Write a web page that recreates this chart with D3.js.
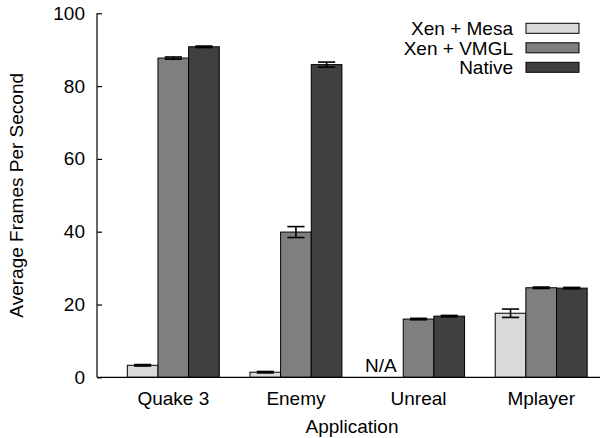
<!DOCTYPE html>
<html>
<head>
<meta charset="utf-8">
<script src="https://cdn.jsdelivr.net/npm/d3@7"></script>
<style>
  html, body { margin: 0; padding: 0; background: #fff; }
  text { font-family: "Liberation Sans", Arial, Helvetica, sans-serif; fill: #000; }
</style>
</head>
<body>
<svg id="chart" width="600" height="438"></svg>
<script>
const categories = ["Quake 3", "Enemy", "Unreal", "Mplayer"];
const seriesNames = ["Xen + Mesa", "Xen + VMGL", "Native"];
const mesaValues = [3.3, 1.4, 0, 17.6];
const mesaErrors = [0.2, 0.2, 0, 1.15];
const vmglValues = [87.7, 39.9, 16.0, 24.6];
const vmglErrors = [0.3, 1.5, 0.2, 0.2];
const nativeValues = [90.8, 85.9, 16.8, 24.5];
const nativeErrors = [0.2, 0.7, 0.2, 0.2];
const missingLabels = [["Unreal", "Xen + Mesa", "N/A"]];
const yTicks = [0, 20, 40, 60, 80, 100];
const colors = ["#d9d9d9", "#7f7f7f", "#404040"];

const seriesValues = [mesaValues, vmglValues, nativeValues];
const seriesErrors = [mesaErrors, vmglErrors, nativeErrors];

const svg = d3.select("#chart");
const mLeft = 97, mRight = 602.5, mTop = 13.3, mBottom = 377.3;

const y = d3.scaleLinear().domain([0, 100]).range([mBottom, mTop]);
const x0 = d3.scaleBand().domain(categories).range([mLeft + 15, mRight]);
const bw = x0.bandwidth();
const x1 = d3.scaleBand().domain(seriesNames).range([bw / 8, bw * 7 / 8]);
const color = d3.scaleOrdinal().domain(seriesNames).range(colors);

const data = [];
categories.forEach((c, i) => {
  seriesNames.forEach((s, j) => {
    data.push({cat: c, ser: s, v: seriesValues[j][i], e: seriesErrors[j][i]});
  });
});

// bars
svg.append("g").selectAll("rect").data(data).join("rect")
  .attr("x", d => x0(d.cat) + x1(d.ser))
  .attr("y", d => y(d.v))
  .attr("width", x1.bandwidth())
  .attr("height", d => y(0) - y(d.v))
  .attr("fill", d => color(d.ser))
  .attr("stroke", "#000")
  .attr("stroke-width", 1);

// error bars
const eb = svg.append("g").attr("stroke", "#000").attr("stroke-width", 1.6);
data.filter(d => d.v > 0).forEach(d => {
  const cx = x0(d.cat) + x1(d.ser) + x1.bandwidth() / 2;
  const hw = x1.bandwidth() * 0.28;
  eb.append("line").attr("x1", cx).attr("x2", cx).attr("y1", y(d.v - d.e)).attr("y2", y(d.v + d.e));
  eb.append("line").attr("x1", cx - hw).attr("x2", cx + hw).attr("y1", y(d.v - d.e)).attr("y2", y(d.v - d.e));
  eb.append("line").attr("x1", cx - hw).attr("x2", cx + hw).attr("y1", y(d.v + d.e)).attr("y2", y(d.v + d.e));
});

// N/A labels
missingLabels.forEach(([c, s, t]) => {
  svg.append("text")
    .attr("x", x0(c) + x1(s) + x1.bandwidth() / 2 - 7)
    .attr("y", y(0) - 5.5)
    .attr("text-anchor", "middle")
    .attr("font-size", 19)
    .text(t);
});

// y axis
const yAxis = svg.append("g").attr("transform", `translate(${mLeft},0)`)
  .call(d3.axisLeft(y).tickValues(yTicks).tickSize(-5).tickPadding(12).tickFormat(d3.format("d")));
yAxis.select(".domain").attr("stroke", "#000").attr("stroke-width", 1.2).attr("d", `M0,${mTop}V${mBottom}`);
yAxis.selectAll(".tick line").attr("stroke", "#000").attr("stroke-width", 1.2);
yAxis.selectAll(".tick text").attr("font-size", 19).attr("font-family", "Liberation Sans, Arial, sans-serif").attr("fill", "#000");

// x axis
const xAxis = svg.append("g").attr("transform", `translate(0,${mBottom})`)
  .call(d3.axisBottom(x0).tickSize(0).tickPadding(14));
xAxis.select(".domain").attr("stroke", "#000").attr("stroke-width", 1.2).attr("d", `M${mLeft},0H600`);
xAxis.selectAll(".tick text")
  .attr("x", d => x1(seriesNames[1]) + x1.bandwidth() / 2 - bw / 2)
  .attr("font-size", 19).attr("font-family", "Liberation Sans, Arial, sans-serif").attr("fill", "#000");

// axis titles
svg.append("text").attr("x", 352).attr("y", 433).attr("text-anchor", "middle").attr("font-size", 19).text("Application");
svg.append("text").attr("transform", `translate(23,${(mTop + mBottom) / 2}) rotate(-90)`)
  .attr("text-anchor", "middle").attr("font-size", 19).text("Average Frames Per Second");

// legend
const lg = svg.append("g");
seriesNames.forEach((s, i) => {
  const yy = 28.3 + i * 19.5;
  lg.append("text").attr("x", 513).attr("y", yy + 6.8).attr("text-anchor", "end").attr("font-size", 19).text(s);
  lg.append("rect").attr("x", 526).attr("y", yy - 5).attr("width", 53).attr("height", 10)
    .attr("fill", color(s)).attr("stroke", "#000").attr("stroke-width", 1);
});
</script>
</body>
</html>
